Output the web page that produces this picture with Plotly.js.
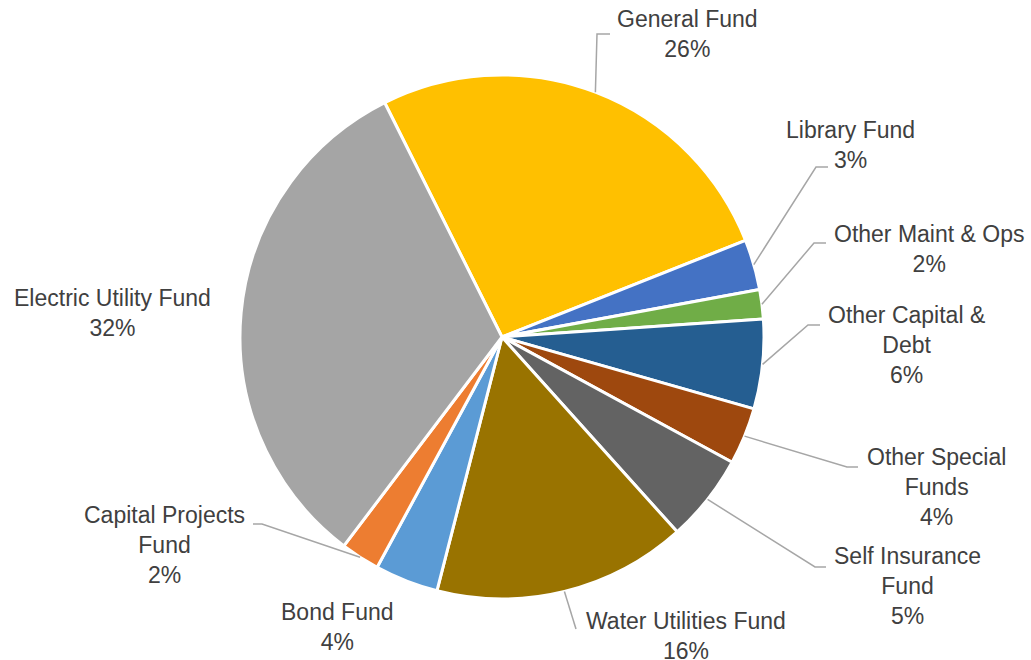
<!DOCTYPE html>
<html>
<head>
<meta charset="utf-8">
<script src="https://cdn.plot.ly/plotly-3.0.1.min.js"></script>
<style>html,body{margin:0;padding:0;background:#fff;}#chart{width:1031px;height:660px;}</style>
</head>
<body>
<div id="chart"></div>
<script>
// ---- data ----
const funds = ["General Fund", "Library Fund", "Other Maint & Ops", "Other Capital & Debt",
  "Other Special Funds", "Self Insurance Fund", "Water Utilities Fund", "Bond Fund",
  "Capital Projects Fund", "Electric Utility Fund"];
const shares = [26.3, 3.1, 1.8, 5.5, 3.5, 5.4, 15.6, 3.9, 2.4, 32.2];
const labelText = ["General Fund", "Library Fund", "Other Maint & Ops", "Other Capital &<br>Debt",
  "Other Special<br>Funds", "Self Insurance<br>Fund", "Water Utilities Fund", "Bond Fund",
  "Capital Projects<br>Fund", "Electric Utility Fund"];
const colors = ["#FFC000", "#4472C4", "#70AD47", "#255E91", "#9E480E", "#636363",
  "#997300", "#5B9BD5", "#ED7D31", "#A5A5A5"];

// ---- layout constants (pixels) ----
const W = 1031, H = 660;
const CX = 502, CY = 337, R = 262;
const ROT = -26.6;
// label centres
const labelPos = [[687, 34], [850, 145], [929, 249], [906, 345], [936, 487], [907, 586],
  [686, 636], [337, 627], [164, 545], [112, 313]];
// leader lines: [elbow, end] or null
const leaders = [[[597, 34], [610, 34]], [[816, 167], [828, 167]], [[814, 243], [826, 243]],
  [[808, 325], [820, 325]], [[847, 467], [858, 467]], [[815, 567], [826, 567]],
  [[576, 629], [576, 629]], null, [[262, 524], [253, 524]], null];

const px = x => x / W;
const py = y => 1 - y / H;

const total = shares.reduce((a, b) => a + b, 0);
let acc = ROT;
const mids = shares.map(v => { const a = v / total * 360; const m = acc + a / 2; acc += a; return m; });

const annotations = funds.map((f, i) => ({
  x: px(labelPos[i][0]), y: py(labelPos[i][1]), xref: 'paper', yref: 'paper',
  xanchor: 'center', yanchor: 'middle', showarrow: false, align: 'center',
  text: labelText[i] + '<br>' + Math.round(shares[i] / total * 100) + '%',
  font: {family: 'Liberation Sans, Arial, sans-serif', size: 23, color: '#404040'}
}));

const shapes = [];
leaders.forEach((l, i) => {
  if (!l) return;
  const a = mids[i] * Math.PI / 180;
  const ex = CX + R * Math.sin(a), ey = CY - R * Math.cos(a);
  const path = 'M' + px(ex) + ',' + py(ey) + ' L' + px(l[0][0]) + ',' + py(l[0][1]) +
    ' L' + px(l[1][0]) + ',' + py(l[1][1]);
  shapes.push({type: 'path', xref: 'paper', yref: 'paper', path: path,
    line: {color: '#A6A6A6', width: 1.5}});
});

const trace = {
  type: 'pie', labels: funds, values: shares, sort: false, direction: 'clockwise',
  rotation: ROT, textinfo: 'none', hoverinfo: 'label+percent',
  marker: {colors: colors, line: {color: '#FFFFFF', width: 3}},
  domain: {x: [px(CX - R), px(CX + R)], y: [py(CY + R), py(CY - R)]},
  showlegend: false
};

Plotly.newPlot('chart', [trace], {
  width: W, height: H, margin: {l: 0, r: 0, t: 0, b: 0},
  paper_bgcolor: '#FFFFFF', showlegend: false,
  annotations: annotations, shapes: shapes
}, {displayModeBar: false, staticPlot: true});
</script>
</body>
</html>
